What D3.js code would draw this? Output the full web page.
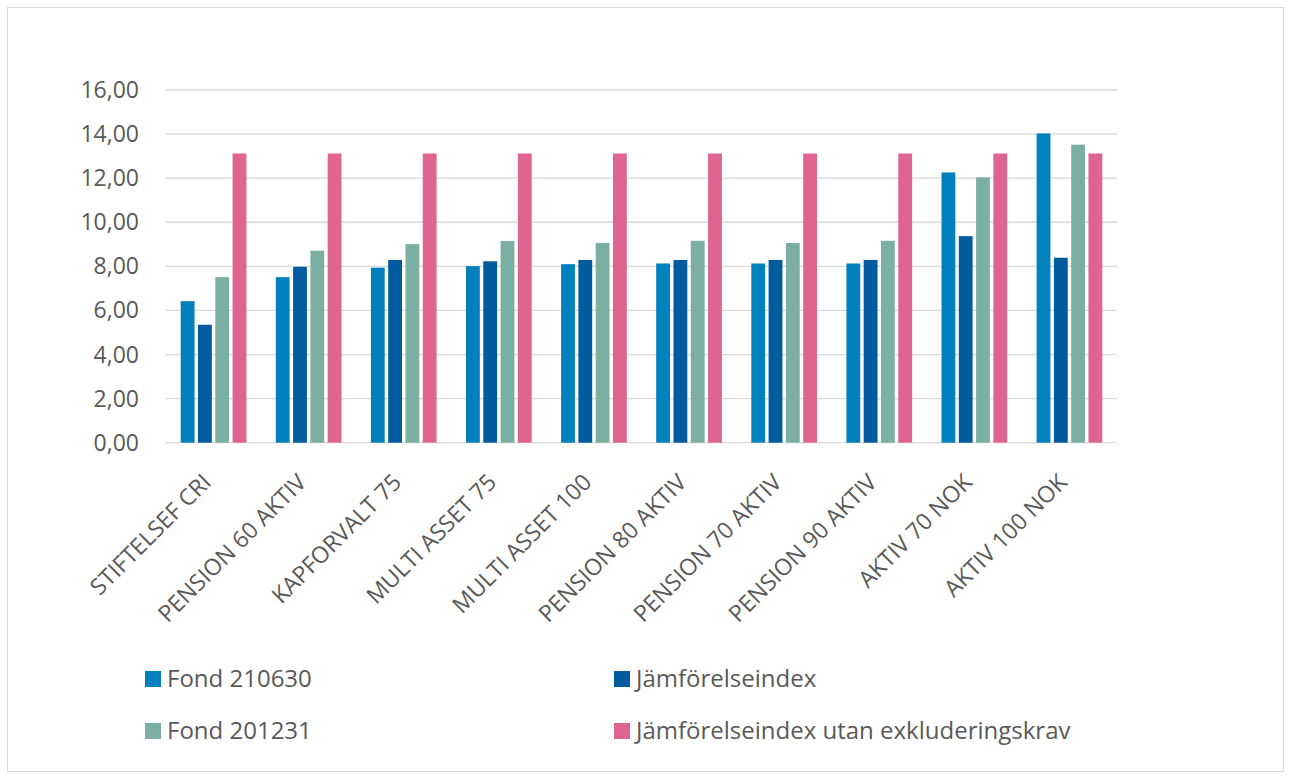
<!DOCTYPE html>
<html><head><meta charset="utf-8">
<script src="https://cdn.jsdelivr.net/npm/d3@7"></script>
<style>body{margin:0;background:#fff;} text{font-family:"Open Sans",sans-serif;fill:#595959;}</style>
</head><body>
<svg id="c" width="1291" height="778"></svg>
<script>
const categories = ["STIFTELSEF CRI","PENSION 60 AKTIV","KAPFORVALT 75","MULTI ASSET 75","MULTI ASSET 100","PENSION 80 AKTIV","PENSION 70 AKTIV","PENSION 90 AKTIV","AKTIV 70 NOK","AKTIV 100 NOK"];
const seriesNames = ["Fond 210630","Jämförelseindex","Fond 201231","Jämförelseindex utan exkluderingskrav"];
const fond210630 = [6.42,7.51,7.94,8.01,8.10,8.13,8.13,8.13,12.26,14.03];
const jamforelseindex = [5.35,7.98,8.29,8.23,8.29,8.29,8.29,8.29,9.37,8.39];
const fond201231 = [7.51,8.71,9.01,9.15,9.06,9.16,9.06,9.16,12.04,13.52];
const jamforelseUtan = [13.12,13.12,13.12,13.12,13.12,13.12,13.12,13.12,13.12,13.12];
const yTicks = [0,2,4,6,8,10,12,14,16];
const colors = ["#0080bc","#005c9e","#7bafa2","#e06490"];

const values = [fond210630, jamforelseindex, fond201231, jamforelseUtan];
const svg = d3.select("#c");
svg.append("rect").attr("x",7.5).attr("y",7.5).attr("width",1276).attr("height",764)
  .attr("fill","#fff").attr("stroke","#d9d9d9").attr("stroke-width",1);

const L=166, R=1117, T=90, B=442.7;
const y = d3.scaleLinear().domain([0,16]).range([B,T]);
const x0 = d3.scaleBand().domain(categories).range([L,R]).paddingInner(0).paddingOuter(0);
const x1 = d3.scaleBand().domain(d3.range(4)).range([0,x0.bandwidth()]).paddingInner(0.2).paddingOuter(0.85);

// gridlines
svg.append("g").selectAll("line").data(yTicks).join("line")
  .attr("x1",L).attr("x2",R).attr("y1",d=>y(d)).attr("y2",d=>y(d))
  .attr("stroke","#d9d9d9").attr("stroke-width",1.3);

// y labels
const fmt = d => d3.format(".2f")(d).replace(".",",");
svg.append("g").selectAll("text").data(yTicks).join("text")
  .attr("x",139).attr("y",d=>y(d)).attr("dy","0.35em").attr("text-anchor","end")
  .style("font-size","23px").text(fmt);

// bars
const g = svg.append("g");
categories.forEach((c,ci)=>{
  g.selectAll(null).data(values.map((v,si)=>({si,v:v[ci]}))).join("rect")
    .attr("x",d=>x0(c)+x1(d.si)).attr("width",x1.bandwidth())
    .attr("y",d=>y(d.v)).attr("height",d=>y(0)-y(d.v))
    .attr("fill",d=>colors[d.si]);
});

// x labels
svg.append("g").selectAll("text").data(categories).join("text")
  .attr("text-anchor","end")
  .attr("transform",d=>`translate(${x0(d)+x0.bandwidth()/2-1},${B+41}) rotate(-45)`)
  .style("font-size","23px").text(d=>d);

// legend
const legPos = [[145,671],[614,671],[145,723],[614,723]];
const lg = svg.append("g").selectAll("g").data(seriesNames).join("g")
  .attr("transform",(d,i)=>`translate(${legPos[i][0]},${legPos[i][1]})`);
lg.append("rect").attr("width",16).attr("height",16).attr("fill",(d,i)=>colors[i]);
lg.append("text").attr("x",22).attr("y",8).attr("dy","0.35em").style("font-size","24px").text(d=>d);
</script>
</body></html>
